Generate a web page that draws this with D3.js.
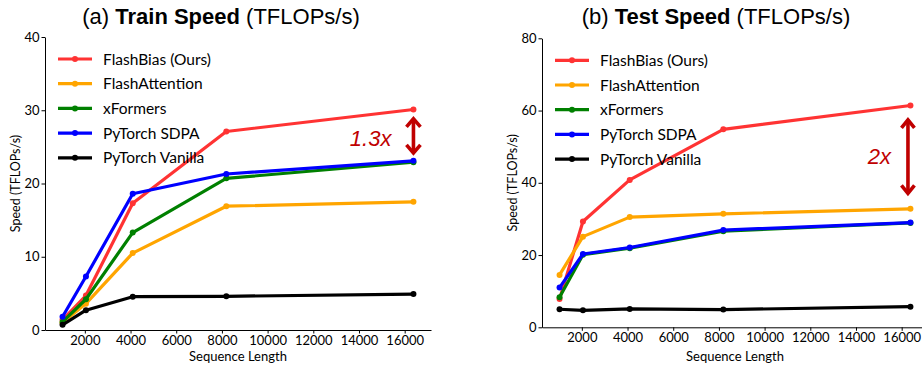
<!DOCTYPE html>
<html>
<head>
<meta charset="utf-8">
<script src="https://cdn.jsdelivr.net/npm/d3@7"></script>
<style>
  body { margin: 0; background: #fff; }
  svg { display: block; }
</style>
</head>
<body>
<div id="chart"></div>
<script>
// sequence lengths on the x axis
const seqLen = [1024, 2048, 4096, 8192, 16384];
const methods = ["FlashBias (Ours)", "FlashAttention", "xFormers", "PyTorch SDPA", "PyTorch Vanilla"];
const methodColors = ["#ff3333", "#ffa500", "#008000", "#0000ff", "#000000"];

// (a) train speed, TFLOPs/s
const trainFlashBias = [1.4, 4.7, 17.3, 27.1, 30.1];
const trainFlashAttn = [1.0, 3.6, 10.5, 16.9, 17.5];
const trainXFormers = [1.1, 4.2, 13.3, 20.7, 22.9];
const trainSDPA = [1.8, 7.3, 18.6, 21.3, 23.1];
const trainVanilla = [0.7, 2.7, 4.55, 4.6, 4.9];

// (b) test speed, TFLOPs/s
const testFlashBias = [7.8, 29.3, 40.8, 54.8, 61.4];
const testFlashAttn = [14.5, 25.1, 30.5, 31.4, 32.8];
const testXFormers = [8.3, 20.1, 21.9, 26.6, 28.9];
const testSDPA = [11.0, 20.3, 22.1, 26.9, 29.0];
const testVanilla = [5.0, 4.7, 5.1, 4.9, 5.7];

const xTicks = [2000, 4000, 6000, 8000, 10000, 12000, 14000, 16000];
const trainYTicks = [0, 10, 20, 30, 40];
const testYTicks = [0, 20, 40, 60, 80];

// speed-up annotations: [top, bottom] of the arrow in data units
const trainArrow = [29.1, 23.9];
const testArrow = [58, 36.5];
const trainRatio = "1.3x";
const testRatio = "2x";

const W = 922, H = 367;
const tickFont = "Lato, 'Open Sans', sans-serif";
const titleFont = "'Liberation Sans', Arial, sans-serif";
const annColor = "#c00000";

const svg = d3.select("#chart").append("svg")
  .attr("width", W)
  .attr("height", H);

function drawPanel(opt) {
  const x = d3.scaleLinear()
    .domain([256, 17152])
    .range([opt.left, opt.left + 386]);
  const y = d3.scaleLinear()
    .domain([0, opt.yMax])
    .range([opt.bottom, opt.top]);

  const g = svg.append("g");

  // title
  const title = g.append("text")
    .attr("x", opt.titleX)
    .attr("y", 24)
    .attr("text-anchor", "middle")
    .style("font-family", titleFont)
    .style("font-size", "22px")
    .attr("fill", "#000");
  title.append("tspan").text(opt.titlePre);
  title.append("tspan").style("font-weight", "bold").text(opt.titleBold);
  title.append("tspan").text(" (TFLOPs/s)");

  // axes
  const xAxis = g.append("g")
    .attr("transform", `translate(0,${opt.bottom})`)
    .call(d3.axisBottom(x).tickValues(xTicks).tickFormat(d3.format("d"))
      .tickSize(3.5).tickSizeOuter(0).tickPadding(2));
  const yAxis = g.append("g")
    .attr("transform", `translate(${opt.left},0)`)
    .call(d3.axisLeft(y).tickValues(opt.yTicks).tickSize(3.5).tickSizeOuter(0).tickPadding(2));
  [xAxis, yAxis].forEach(a => {
    a.selectAll("text")
      .style("font-family", tickFont)
      .style("font-size", "13px")
      .attr("fill", "#000");
    a.select(".domain").attr("stroke", "#000").attr("stroke-width", 1);
    a.selectAll(".tick line").attr("stroke", "#000");
  });

  g.append("text")
    .attr("x", opt.left + 193)
    .attr("y", 361)
    .attr("text-anchor", "middle")
    .style("font-family", tickFont)
    .style("font-size", "13px")
    .text("Sequence Length");

  g.append("text")
    .attr("transform", `translate(${opt.left - 25},${(opt.top + opt.bottom) / 2}) rotate(-90)`)
    .attr("text-anchor", "middle")
    .style("font-family", tickFont)
    .style("font-size", "12.5px")
    .text("Speed (TFLOPs/s)");

  // lines
  const line = d3.line()
    .x((d, i) => x(seqLen[i]))
    .y(d => y(d));

  opt.series.forEach((vals, k) => {
    const s = g.append("g");
    s.append("path")
      .datum(vals)
      .attr("d", line)
      .attr("fill", "none")
      .attr("stroke", methodColors[k])
      .attr("stroke-width", 3.2)
      .attr("stroke-linejoin", "round");
    s.selectAll("circle")
      .data(vals)
      .enter().append("circle")
      .attr("cx", (d, i) => x(seqLen[i]))
      .attr("cy", d => y(d))
      .attr("r", 3)
      .attr("fill", methodColors[k]);
  });

  // legend
  const leg = g.append("g")
    .selectAll("g")
    .data(methods)
    .enter().append("g")
    .attr("transform", (d, i) => `translate(${opt.left + 13},${opt.top + 22 + i * 24.7})`);
  leg.append("line")
    .attr("x1", 0).attr("x2", 34)
    .attr("stroke", (d, i) => methodColors[i])
    .attr("stroke-width", 3.2);
  leg.append("circle")
    .attr("cx", 17)
    .attr("r", 3)
    .attr("fill", (d, i) => methodColors[i]);
  leg.append("text")
    .attr("x", 45)
    .attr("dy", "0.36em")
    .style("font-family", tickFont)
    .style("font-size", "15.5px")
    .text(d => d);

  // speed-up arrow
  const ax = x(seqLen[seqLen.length - 1]) + opt.arrowDx;
  const y1 = y(opt.arrow[0]), y2 = y(opt.arrow[1]);
  const hw = opt.headW, hh = 10;
  const arr = g.append("g")
    .attr("stroke", annColor)
    .attr("stroke-width", 3.6)
    .attr("fill", "none")
    .attr("stroke-linecap", "butt")
    .attr("stroke-linejoin", "miter");
  arr.append("line").attr("x1", ax).attr("x2", ax).attr("y1", y1 + 2).attr("y2", y2 - 2);
  arr.append("path").attr("d", `M${ax - hw},${y1 + hh}L${ax},${y1 + 2}L${ax + hw},${y1 + hh}`);
  arr.append("path").attr("d", `M${ax - hw},${y2 - hh}L${ax},${y2 - 2}L${ax + hw},${y2 - hh}`);

  g.append("text")
    .attr("x", ax - opt.labelDx)
    .attr("y", (y1 + y2) / 2 + opt.labelDy)
    .attr("text-anchor", "end")
    .style("font-family", titleFont)
    .style("font-style", "italic")
    .style("font-size", "22px")
    .attr("fill", annColor)
    .text(opt.ratio);
}

drawPanel({
  left: 45, top: 37, bottom: 330, yMax: 40, yTicks: trainYTicks,
  titleX: 221, titlePre: "(a) ", titleBold: "Train Speed",
  series: [trainFlashBias, trainFlashAttn, trainXFormers, trainSDPA, trainVanilla],
  arrow: trainArrow, arrowDx: 0, ratio: trainRatio, labelDx: 22, labelDy: 10, headW: 7
});

drawPanel({
  left: 542, top: 38.3, bottom: 327.3, yMax: 80, yTicks: testYTicks,
  titleX: 716, titlePre: "(b) ", titleBold: "Test Speed",
  series: [testFlashBias, testFlashAttn, testXFormers, testSDPA, testVanilla],
  arrow: testArrow, arrowDx: -2.5, ratio: testRatio, labelDx: 17, labelDy: 7.5, headW: 6.5
});
</script>
</body>
</html>
